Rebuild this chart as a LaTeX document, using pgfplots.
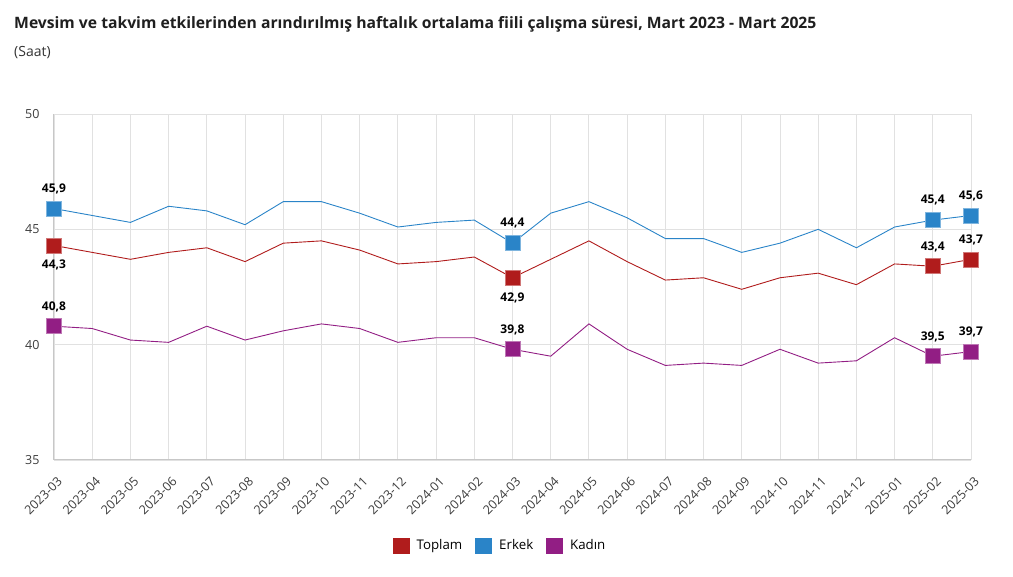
\documentclass[border=0pt]{standalone}
\usepackage{fontspec}
\setmainfont{Open Sans}
\usepackage{pgfplots}
\usepackage{pgfplotstable}
\pgfplotsset{compat=1.18}

\definecolor{cToplam}{RGB}{176,28,28}
\definecolor{cErkek}{RGB}{42,132,200}
\definecolor{cKadin}{RGB}{146,30,132}
\definecolor{gridc}{RGB}{225,225,225}
\definecolor{tickc}{RGB}{60,60,60}

% aylik seriler, 0 = 2023-03 ... 24 = 2025-03
\pgfplotstableread{
x  toplam erkek kadin
0  44.3 45.9 40.8
1  44.0 45.6 40.7
2  43.7 45.3 40.2
3  44.0 46.0 40.1
4  44.2 45.8 40.8
5  43.6 45.2 40.2
6  44.4 46.2 40.6
7  44.5 46.2 40.9
8  44.1 45.7 40.7
9  43.5 45.1 40.1
10 43.6 45.3 40.3
11 43.8 45.4 40.3
12 42.9 44.4 39.8
13 43.7 45.7 39.5
14 44.5 46.2 40.9
15 43.6 45.5 39.8
16 42.8 44.6 39.1
17 42.9 44.6 39.2
18 42.4 44.0 39.1
19 42.9 44.4 39.8
20 43.1 45.0 39.2
21 42.6 44.2 39.3
22 43.5 45.1 40.3
23 43.4 45.4 39.5
24 43.7 45.6 39.7
}\data

\pgfplotsset{
  hl/.style={forget plot, only marks, mark=square*, mark size=7.5pt,
    mark options={fill=#1, draw=#1!60!white, line width=0.6pt},
    nodes near coords={\pgfmathprintnumber[use comma,fixed,fixed zerofill,precision=1]{\pgfplotspointmeta}}},
  lblup/.style={nodes near coords align={above}, every node near coord/.append style={yshift=11pt}},
  lbldown/.style={nodes near coords align={below}, every node near coord/.append style={yshift=-11pt}},
}

\begin{document}
\begin{tikzpicture}
\path[use as bounding box] (0pt,0pt) rectangle (1013pt,577pt);
\node[anchor=base west, inner sep=0pt, font=\bfseries\fontsize{15.7}{18}\selectfont, text=black!88] at (14pt,548pt) {Mevsim ve takvim etkilerinden arındırılmış haftalık ortalama fiili çalışma süresi, Mart 2023 - Mart 2025};
\node[anchor=base west, inner sep=0pt, font=\fontsize{14}{16}\selectfont, text=black!80] at (14pt,520pt) {(Saat)};
\begin{axis}[
    at={(54pt,117pt)}, anchor=south west,
    scale only axis,
    width=917pt, height=346pt,
    xmin=0, xmax=24, ymin=35, ymax=50,
    xtick={0,...,24},
    xticklabels={2023-03,2023-04,2023-05,2023-06,2023-07,2023-08,2023-09,2023-10,2023-11,2023-12,2024-01,2024-02,2024-03,2024-04,2024-05,2024-06,2024-07,2024-08,2024-09,2024-10,2024-11,2024-12,2025-01,2025-02,2025-03},
    ytick={35,40,45,50},
    grid=major,
    major grid style={draw=gridc, line width=0.9pt},
    major tick length=0pt,
    axis lines*=left,
    axis line style={-, draw=black!22, line width=1pt},
    clip=false,
    /pgf/number format/assume math mode=true,
    xticklabel style={xshift=6pt, yshift=-19pt, rotate=45, anchor=east, inner sep=0pt,
        font=\fontsize{12.5}{14}\selectfont, text=tickc},
    yticklabel style={font=\fontsize{12.5}{14}\selectfont, text=tickc, xshift=-11pt},
    legend columns=-1,
    legend style={at={(0.4864,-0.247)}, anchor=center, draw=none, fill=none,
        font=\fontsize{13.3}{15}\selectfont,
        /tikz/every odd column/.append style={column sep=5pt},
        /tikz/every even column/.append style={column sep=11pt}},
    legend image code/.code={\fill[#1] (0pt,-7.5pt) rectangle (16pt,7.5pt);},
    nodes near coords style={font=\bfseries\fontsize{12}{14}\selectfont, text=black},
    ]
\addplot[cToplam, line width=0.9pt, mark=none] table[x=x,y=toplam]{\data};
\addplot[cErkek, line width=0.9pt, mark=none] table[x=x,y=erkek]{\data};
\addplot[cKadin, line width=0.9pt, mark=none] table[x=x,y=kadin]{\data};
\legend{Toplam, Erkek, Kadın}
% vurgulanan noktalar
\addplot[hl=cErkek, lblup] coordinates {(0,45.9) (12,44.4) (23,45.4) (24,45.6)};
\addplot[hl=cToplam, lbldown] coordinates {(0,44.3) (12,42.9)};
\addplot[hl=cToplam, lblup] coordinates {(23,43.4) (24,43.7)};
\addplot[hl=cKadin, lblup] coordinates {(0,40.8) (12,39.8) (23,39.5) (24,39.7)};
\end{axis}
\end{tikzpicture}
\end{document}
